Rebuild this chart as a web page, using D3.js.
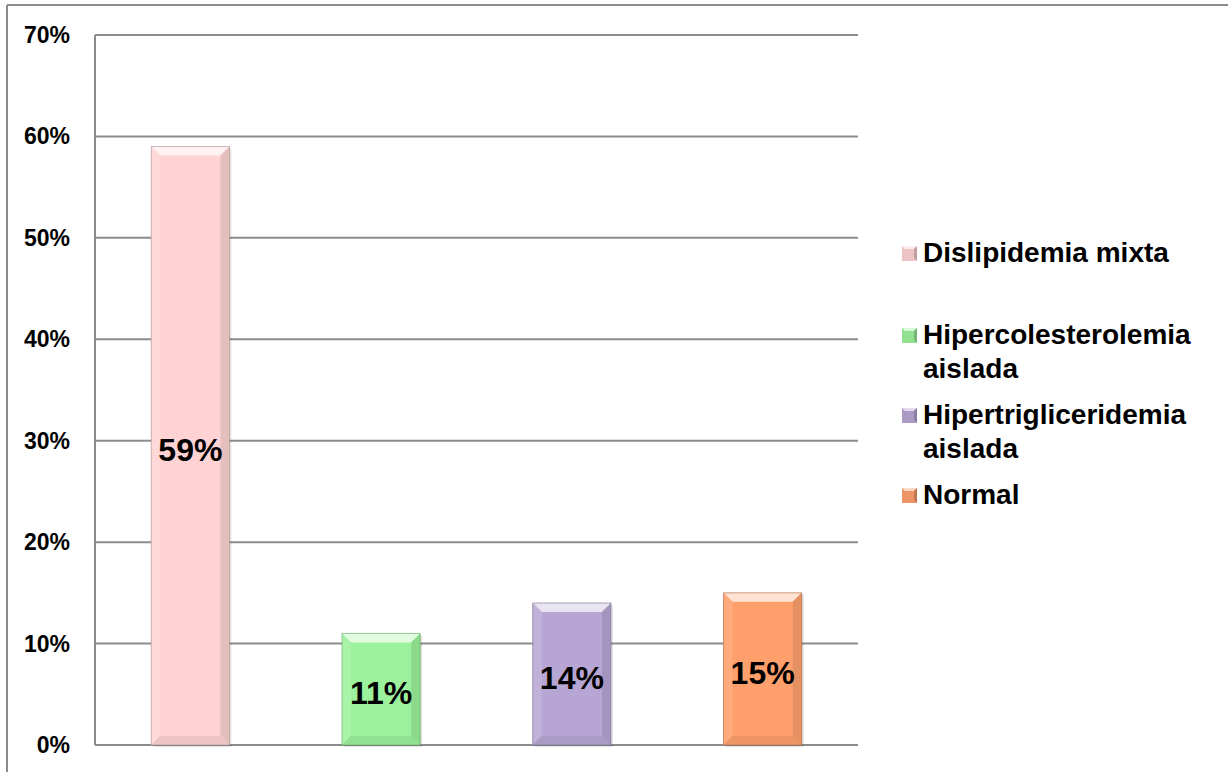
<!DOCTYPE html>
<html>
<head>
<meta charset="utf-8">
<script src="https://cdn.jsdelivr.net/npm/d3@7"></script>
<style>
  html, body { margin: 0; padding: 0; background: #fff; }
  svg { display: block; }
  text { font-family: "Liberation Sans", Arial, sans-serif; font-weight: bold; fill: #000; }
</style>
</head>
<body>
<svg id="chart" width="1228" height="772"></svg>
<script>
// Categories and their shares
const categories = ["Dislipidemia mixta", "Hipercolesterolemia aislada", "Hipertrigliceridemia aislada", "Normal"];
const legendLines = [["Dislipidemia mixta"], ["Hipercolesterolemia", "aislada"], ["Hipertrigliceridemia", "aislada"], ["Normal"]];
const values = [0.59, 0.11, 0.14, 0.15];
const valueLabels = ["59%", "11%", "14%", "15%"];
const yTicks = [0, 0.1, 0.2, 0.3, 0.4, 0.5, 0.6, 0.7];
const colors = ["#ffd3d3", "#9cf29c", "#b7a6d3", "#ffa06c"];

const svg = d3.select("#chart");
const W = 1228, H = 772;
const plot = { left: 95, right: 858, top: 35, bottom: 745 };

// Outer frame (left and top edges)
svg.append("line").attr("x1", 7).attr("x2", 7).attr("y1", 5).attr("y2", H)
  .attr("stroke", "#8c8c8c").attr("stroke-width", 2);
svg.append("line").attr("x1", 7).attr("x2", W).attr("y1", 5).attr("y2", 5)
  .attr("stroke", "#8c8c8c").attr("stroke-width", 2);

const x = d3.scaleBand().domain(categories)
  .range([plot.left, plot.right]).paddingInner(0.59).paddingOuter(0.295);
const y = d3.scaleLinear().domain([0, 0.7]).range([plot.bottom, plot.top]);

// Gridlines
svg.append("g").selectAll("line").data(yTicks).join("line")
  .attr("x1", plot.left).attr("x2", plot.right)
  .attr("y1", d => y(d)).attr("y2", d => y(d))
  .attr("stroke", "#8c8c8c").attr("stroke-width", 2);

// Vertical axis line
svg.append("line").attr("x1", plot.left).attr("x2", plot.left)
  .attr("y1", plot.top).attr("y2", plot.bottom)
  .attr("stroke", "#8c8c8c").attr("stroke-width", 2);

// Tick labels
const fmt = d3.format(".0%");
svg.append("g").selectAll("text").data(yTicks).join("text")
  .attr("x", 70).attr("y", d => y(d))
  .attr("text-anchor", "end").attr("dominant-baseline", "central")
  .style("font-size", "23px")
  .text(d => fmt(d));

// Bevelled bars
const bevel = 9;
const bars = svg.append("g").selectAll("g").data(values).join("g");

bars.each(function (v, i) {
  const g = d3.select(this);
  const x0 = x(categories[i]), w = x.bandwidth();
  const y0 = y(v), y1 = y(0), h = y1 - y0;
  const base = d3.color(colors[i]);
  const b = Math.min(bevel, h / 2);
  // soft shadow
  g.append("rect").attr("x", x0 + 2).attr("y", y0 + 2).attr("width", w).attr("height", h)
    .attr("fill", "#000").attr("opacity", 0.1);
  g.append("rect").attr("x", x0).attr("y", y0).attr("width", w).attr("height", h)
    .attr("fill", base.formatHex());
  // top bevel: bright highlight
  g.append("polygon")
    .attr("points", [[x0, y0], [x0 + w, y0], [x0 + w - b, y0 + b], [x0 + b, y0 + b]].join(" "))
    .attr("fill", d3.interpolateRgb(base, "#fff")(0.7));
  // left bevel
  g.append("polygon")
    .attr("points", [[x0, y0], [x0 + b, y0 + b], [x0 + b, y1 - b], [x0, y1]].join(" "))
    .attr("fill", d3.interpolateRgb(base, "#fff")(0.12));
  // right bevel
  g.append("polygon")
    .attr("points", [[x0 + w, y0], [x0 + w, y1], [x0 + w - b, y1 - b], [x0 + w - b, y0 + b]].join(" "))
    .attr("fill", base.darker(0.3).formatHex());
  // bottom bevel
  g.append("polygon")
    .attr("points", [[x0, y1], [x0 + w, y1], [x0 + w - b, y1 - b], [x0 + b, y1 - b]].join(" "))
    .attr("fill", base.darker(0.2).formatHex());
  g.append("rect").attr("x", x0).attr("y", y0).attr("width", w).attr("height", h)
    .attr("fill", "none").attr("stroke", base.darker(1.1).formatHex()).attr("stroke-width", 1).attr("opacity", 0.6);
});

// Value labels centred on each bar
svg.append("g").selectAll("text").data(values).join("text")
  .attr("x", (d, i) => x(categories[i]) + x.bandwidth() / 2)
  .attr("y", d => (y(d) + y(0)) / 2 + 4)
  .attr("text-anchor", "middle").attr("dominant-baseline", "central")
  .style("font-size", "32px")
  .text((d, i) => valueLabels[i]);

// Legend
const legendTops = [243, 325, 405, 485];
const lineGap = 34;
const legend = svg.append("g").selectAll("g").data(categories).join("g");
legend.each(function (c, i) {
  const g = d3.select(this);
  const top = legendTops[i];
  const base = d3.color(colors[i]);
  const mx = 902, my = top + 3, ms = 15, mb = 3;
  g.append("rect").attr("x", mx).attr("y", my).attr("width", ms).attr("height", ms)
    .attr("fill", base.darker(0.2).formatHex());
  g.append("polygon")
    .attr("points", [[mx, my], [mx + ms, my], [mx + ms - mb, my + mb], [mx + mb, my + mb]].join(" "))
    .attr("fill", d3.interpolateRgb(base, "#fff")(0.6));
  g.append("polygon")
    .attr("points", [[mx + ms, my], [mx + ms, my + ms], [mx + ms - mb, my + ms - mb], [mx + ms - mb, my + mb]].join(" "))
    .attr("fill", base.darker(0.8).formatHex());
  const t = g.append("text").attr("x", 923).attr("y", top + 19).style("font-size", "28px");
  legendLines[i].forEach((ln, j) => {
    t.append("tspan").attr("x", 923).attr("y", top + 19 + j * lineGap).text(ln);
  });
});
</script>
</body>
</html>
